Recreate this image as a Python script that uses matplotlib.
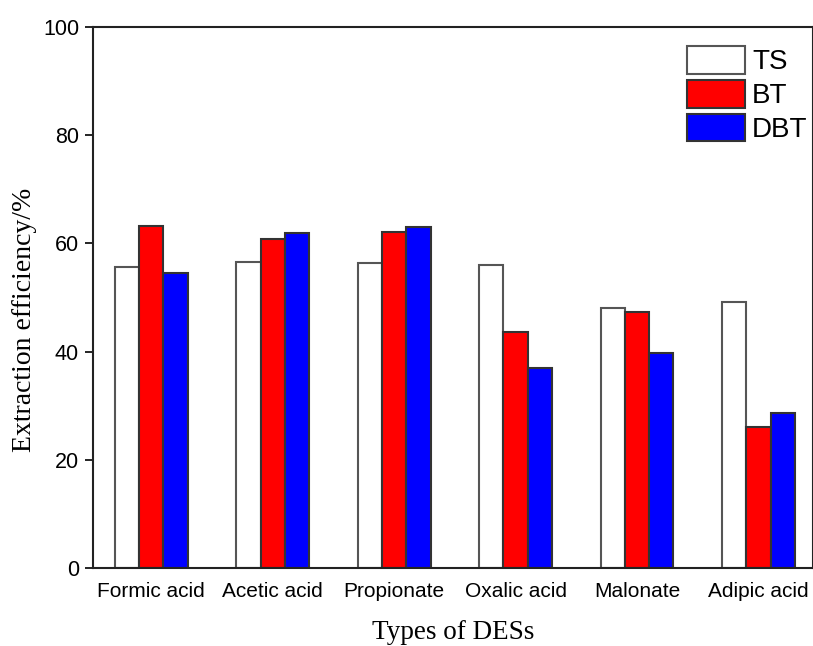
import matplotlib
matplotlib.use("Agg")
import matplotlib.pyplot as plt
import numpy as np

categories = ["Formic acid", "Acetic acid", "Propionate",
              "Oxalic acid", "Malonate", "Adipic acid"]
series = ["TS", "BT", "DBT"]
ts = [55.6, 56.6, 56.3, 56.0, 48.1, 49.1]
bt = [63.3, 60.8, 62.1, 43.6, 47.3, 26.1]
dbt = [54.6, 62.0, 63.1, 36.9, 39.7, 28.7]

colors = ["white", "#ff0000", "#0000ff"]
edges = ["#555555", "#333333", "#333333"]

fig = plt.figure(figsize=(8.13, 6.46), dpi=100)
ax = fig.add_axes([93 / 813, 78 / 646, 720 / 813, 541 / 646])

x = np.arange(len(categories))
width = 0.2
for i, (name, vals) in enumerate(zip(series, [ts, bt, dbt])):
    ax.bar(x + (i - 1) * width, vals, width, color=colors[i],
           edgecolor=edges[i], linewidth=1.5, label=name)

ax.set_xlim(-0.48, 5.45)
ax.set_ylim(0, 100)
ax.set_yticks([0, 20, 40, 60, 80, 100])
ax.set_xticks(x)
ax.set_xticklabels(categories, family="Liberation Sans", fontsize=15)
for lab in ax.get_yticklabels():
    lab.set_family("Liberation Sans")
    lab.set_fontsize(15.5)
ax.tick_params(axis="x", length=0, pad=10)
ax.tick_params(axis="y", direction="out", length=6, width=1.2, pad=4)
for sp in ax.spines.values():
    sp.set_linewidth(1.5)
    sp.set_color("#222222")

ax.set_xlabel("Types of DESs", family="Liberation Serif", fontsize=19.5, labelpad=14)
ax.set_ylabel("Extraction efficiency/%", family="Liberation Serif", fontsize=20)
ax.yaxis.set_label_coords(-0.078, 0.458)

leg = ax.legend(loc="upper right", bbox_to_anchor=(1.0, 0.975), frameon=False,
                prop={"family": "Liberation Sans", "size": 20},
                handlelength=2.1, handleheight=1.15, handletextpad=0.25,
                labelspacing=0.17, borderaxespad=0.0, borderpad=0.2)

fig.savefig("out.png", dpi=100)
